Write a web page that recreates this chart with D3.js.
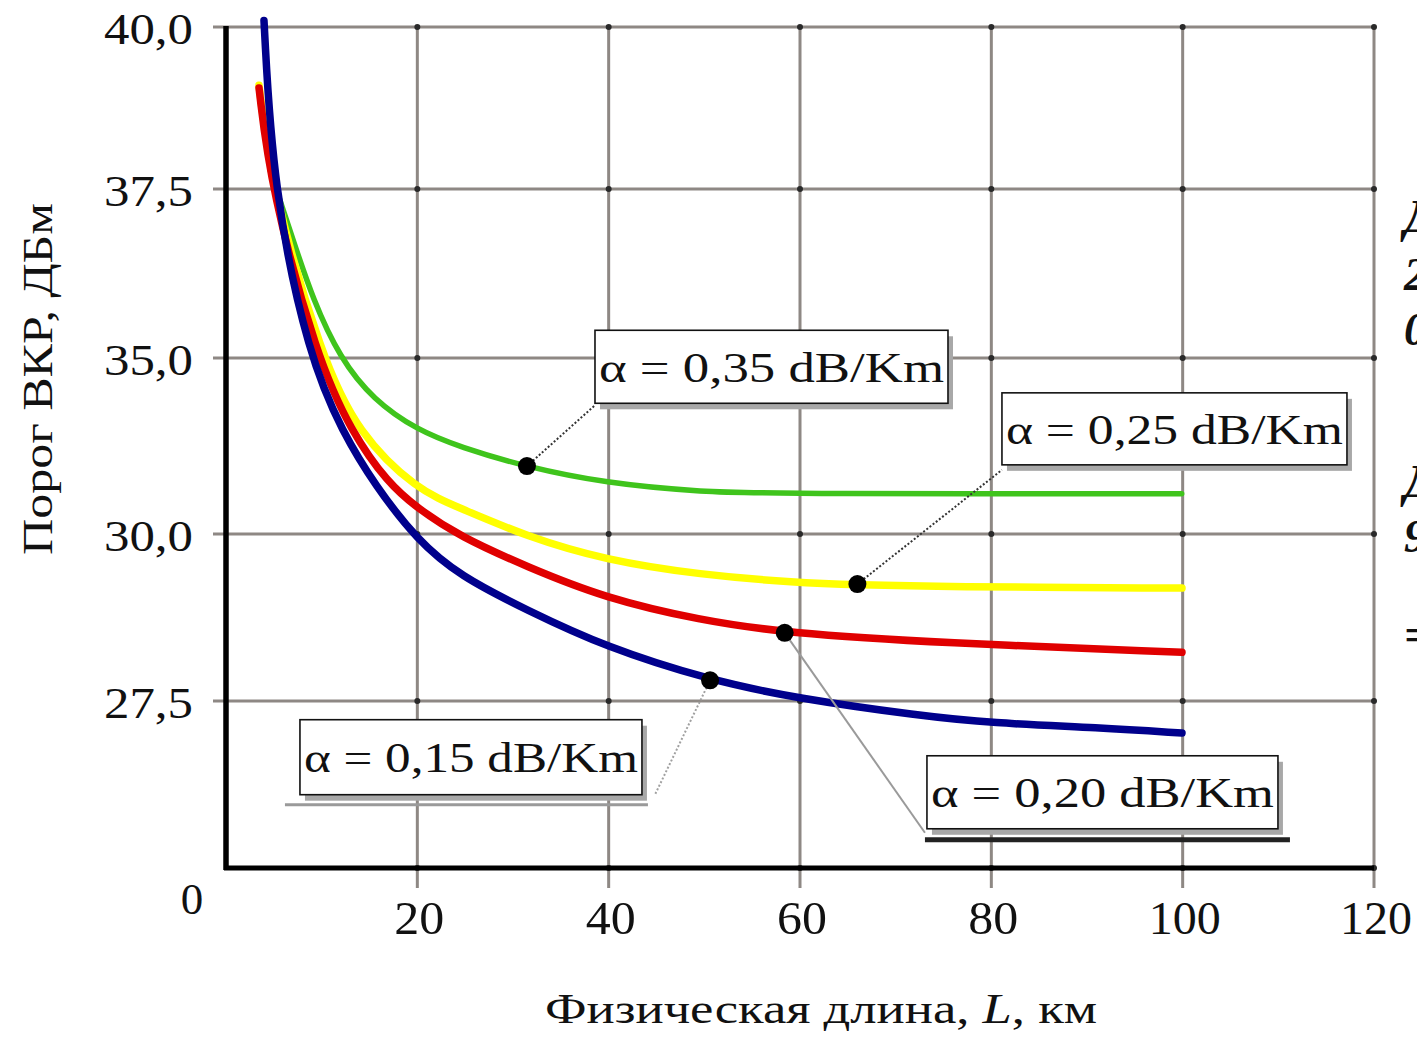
<!DOCTYPE html>
<html>
<head>
<meta charset="utf-8">
<script src="https://cdn.jsdelivr.net/npm/d3@7"></script>
<style>
  html, body { margin: 0; padding: 0; background: #fff; }
  svg { display: block; }
  text { font-family: "Liberation Serif", "Times New Roman", serif; fill: #111; }
</style>
</head>
<body>
<div id="chartDiv"></div>
<script>
// Values: SRS threshold (dBm) vs physical fibre length L (km)
const lengthTicks = [20, 40, 60, 80, 100, 120]
const thresholdTicks = [27.5, 30, 35, 37.5, 40]
const thresholdDomain = [25, 27.5, 30, 35, 37.5, 40] // the original axis is not uniform

const seriesNames = ["α = 0,35 dB/Km", "α = 0,25 dB/Km", "α = 0,20 dB/Km", "α = 0,15 dB/Km"]

const len035 = [4.6, 7.0, 9.1, 11.9, 15.4, 20.0, 24.46, 31.46, 39.6, 49.5, 59.7, 99.9]
const thr035 = [37.79, 36.75, 35.86, 35.0, 33.81, 32.95, 32.47, 31.90, 31.45, 31.19, 31.14, 31.14]

const len025 = [3.45, 4.81, 10.03, 13.8, 19.96, 24.46, 31.46, 39.62, 49.55, 59.68, 65.96, 74.63, 99.93]
const thr025 = [39.1, 37.5, 35.0, 32.87, 31.25, 30.74, 29.96, 29.61, 29.39, 29.27, 29.24, 29.21, 29.19]

const len020 = [3.45, 4.7, 9.51, 13.17, 16.93, 19.96, 24.46, 31.46, 39.62, 49.55, 58.43, 74.63, 99.93]
const thr020 = [39.06, 37.5, 35.0, 32.87, 31.45, 30.74, 29.96, 29.51, 29.04, 28.71, 28.52, 28.37, 28.23]

const len015 = [3.97, 4.91, 8.68, 12.23, 15.57, 19.96, 24.46, 31.46, 39.62, 50.59, 59.68, 72.54, 79.86, 91.36, 99.93]
const thr015 = [40.1, 37.5, 35.0, 32.87, 31.39, 29.91, 29.37, 28.86, 28.31, 27.81, 27.54, 27.28, 27.17, 27.10, 27.02]

// marker points on each curve that the callouts point to
const markerLen = [31.46, 66.0, 58.4, 50.6]
const markerThr = [31.93, 29.25, 28.52, 27.81]

// ---- layout / styles ----
const W = 1417, H = 1037
const colors = ["#3fc41c", "#ffff00", "#e00000", "#00008c"]
const widths = [5.5, 7.5, 7.5, 7.5]

const svg = d3.select("#chartDiv").append("svg")
    .attr("width", W).attr("height", H)

const x = d3.scaleLinear().domain([0, 120]).range([226, 1374])
const y = d3.scaleLinear().domain(thresholdDomain).range([868, 701, 534, 358, 189, 27])

const fmt = d => d3.format(".1f")(d).replace(".", ",")
const gridCol = "#8e8884"

// Horizontal grid (extends a little left of the axis)
svg.append("g").selectAll("line")
    .data(thresholdTicks)
    .join("line")
    .attr("x1", x(0) - 13).attr("x2", x(120))
    .attr("y1", d => y(d)).attr("y2", d => y(d))
    .style("stroke", gridCol).style("stroke-width", 3)

// Vertical grid (extends below the axis as ticks)
svg.append("g").selectAll("line")
    .data(lengthTicks)
    .join("line")
    .attr("x1", d => x(d)).attr("x2", d => x(d))
    .attr("y1", y(40)).attr("y2", y(25) + 20)
    .style("stroke", gridCol).style("stroke-width", 3)

// darker dots where grid lines cross
const crossings = d3.cross(lengthTicks, thresholdTicks.concat([25]))
svg.append("g").selectAll("circle")
    .data(crossings)
    .join("circle")
    .attr("cx", d => x(d[0])).attr("cy", d => y(d[1]))
    .attr("r", 3)
    .style("fill", "#2a2a2a")

// Axes (thick black)
svg.append("line")
    .attr("x1", x(0)).attr("x2", x(0)).attr("y1", y(40) - 1).attr("y2", y(25) + 2)
    .style("stroke", "#000").style("stroke-width", 5.5)
svg.append("line")
    .attr("x1", x(0) - 2).attr("x2", x(120)).attr("y1", y(25)).attr("y2", y(25))
    .style("stroke", "#000").style("stroke-width", 5)

// Y tick labels
svg.append("g").selectAll("text")
    .data(thresholdTicks)
    .join("text")
    .attr("x", 193).attr("y", d => y(d) + 17)
    .attr("text-anchor", "end")
    .attr("textLength", 89).attr("lengthAdjust", "spacingAndGlyphs")
    .style("font-size", "45px")
    .text(fmt)

// origin label
svg.append("text")
    .attr("x", 192).attr("y", y(25) + 46)
    .attr("text-anchor", "middle")
    .style("font-size", "45px")
    .text("0")

// X tick labels
svg.append("g").selectAll("text")
    .data(lengthTicks)
    .join("text")
    .attr("x", d => x(d) + 2).attr("y", y(25) + 66)
    .attr("text-anchor", "middle")
    .attr("textLength", d => d >= 100 ? 72 : 50).attr("lengthAdjust", "spacingAndGlyphs")
    .style("font-size", "47px")
    .text(d => d)

// Axis titles
const xTitle = svg.append("text")
    .attr("x", 821).attr("y", 1023)
    .attr("text-anchor", "middle")
    .attr("textLength", 552).attr("lengthAdjust", "spacingAndGlyphs")
    .style("font-size", "43px")
xTitle.append("tspan").text("Физическая длина, ")
xTitle.append("tspan").style("font-style", "italic").text("L")
xTitle.append("tspan").text(", км")

svg.append("text")
    .attr("transform", "translate(52,379) rotate(-90)")
    .attr("text-anchor", "middle")
    .attr("textLength", 352).attr("lengthAdjust", "spacingAndGlyphs")
    .style("font-size", "43px")
    .text("Порог ВКР, ДБм")

// Curves
const series = [
    {len: len035, thr: thr035},
    {len: len025, thr: thr025},
    {len: len020, thr: thr020},
    {len: len015, thr: thr015}
]
const line = d3.line()
    .x(d => x(d[0]))
    .y(d => y(d[1]))
    .curve(d3.curveBasis)

svg.append("g").selectAll("path")
    .data(series)
    .join("path")
    .attr("d", s => line(d3.zip(s.len, s.thr)))
    .style("fill", "none")
    .style("stroke", (s, i) => colors[i])
    .style("stroke-width", (s, i) => widths[i])
    .style("stroke-linecap", "round")
    .style("stroke-linejoin", "round")

// Callout boxes: top-left corner in data units, size in px, leader end relative to box
const callouts = [
    {L: 38.57, v: 35.41, w: 353, h: 73, lx: 0, ly: 75, lead: "#333", dash: "2,2", under: null},
    {L: 81.11, v: 34.01, w: 345, h: 72, lx: 0, ly: 77, lead: "#333", dash: "2,2", under: null},
    {L: 73.27, v: 26.68, w: 351, h: 73, lx: -2, ly: 77, lead: "#9a9a9a", dash: null, under: {x1: -2, x2: 363, dy: 84, c: "#222", sw: 5}},
    {L: 7.73, v: 27.22, w: 342, h: 75, lx: 355, ly: 75, lead: "#a0a0a0", dash: "2,2", under: {x1: -15, x2: 348, dy: 85, c: "#9a9a9a", sw: 3}}
]

const ann = svg.append("g")
callouts.forEach((c, i) => {
    const bx = x(c.L), by = y(c.v)
    const mx = x(markerLen[i]), my = y(markerThr[i])

    // leader line
    ann.append("line")
        .attr("x1", mx).attr("y1", my)
        .attr("x2", bx + c.lx).attr("y2", by + c.ly)
        .style("stroke", c.lead).style("stroke-width", 2)
        .style("stroke-dasharray", c.dash)

    // underline / shadow stroke
    if (c.under) {
        ann.append("line")
            .attr("x1", bx + c.under.x1).attr("x2", bx + c.under.x2)
            .attr("y1", by + c.under.dy).attr("y2", by + c.under.dy)
            .style("stroke", c.under.c).style("stroke-width", c.under.sw)
    }

    // shadow + box
    ann.append("rect")
        .attr("x", bx + 5).attr("y", by + 6)
        .attr("width", c.w).attr("height", c.h)
        .style("fill", "#a8a8a8")
    ann.append("rect")
        .attr("x", bx).attr("y", by)
        .attr("width", c.w).attr("height", c.h)
        .style("fill", "#fff").style("stroke", "#111").style("stroke-width", 1.6)
    ann.append("text")
        .attr("x", bx + c.w / 2).attr("y", by + c.h / 2 + 15)
        .attr("text-anchor", "middle")
        .attr("textLength", c.w - 8).attr("lengthAdjust", "spacingAndGlyphs")
        .style("font-size", "42px")
        .text(seriesNames[i])

    // marker
    ann.append("circle")
        .attr("cx", mx).attr("cy", my).attr("r", 9)
        .style("fill", "#000")
})

// Fragments of neighbouring page text cut off at the right edge (as in the source image)
const edgeGlyphs = ["Д", "2", "0", "Д", "9", "="]
const edgeY = [232, 290, 345, 497, 552, 650]
svg.append("g").selectAll("text")
    .data(edgeGlyphs)
    .join("text")
    .attr("x", 1404).attr("y", (d, i) => edgeY[i])
    .style("font-size", "46px")
    .style("font-weight", "bold")
    .style("font-style", "italic")
    .text(d => d)
</script>
</body>
</html>
